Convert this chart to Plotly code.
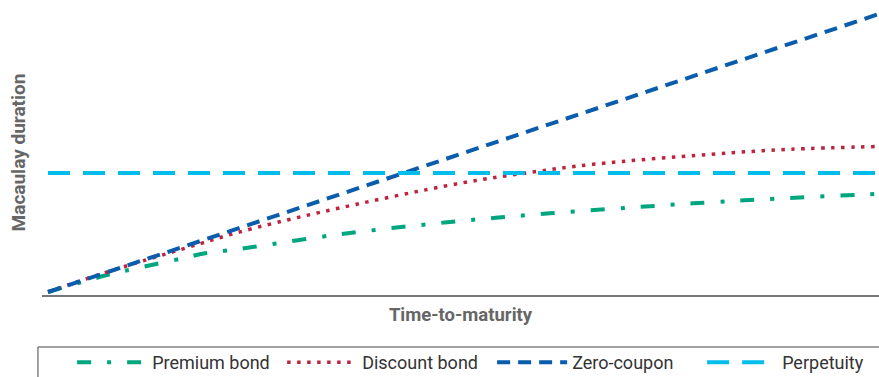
import plotly.graph_objects as go

# Time-to-maturity (years) and Macaulay duration readings
prem_t = [0, 2.13, 3.07, 4.87, 5.67, 6.82, 10.54, 14.40, 18.12, 21.99, 23.90, 25.78, 29.57, 30]
prem_d = [0, 1.83, 2.48, 3.64, 4.18, 4.61, 6.23, 7.52, 8.49, 9.31, 9.68, 10.00, 10.54, 10.6]

disc_t = [0, 0.79, 2.06, 3.42, 5.46, 6.82, 9.93, 14.87, 17.58, 19.68, 23.90, 26.79, 30]
disc_d = [0, 0.83, 2.08, 3.35, 5.18, 6.40, 8.67, 11.73, 12.98, 13.78, 14.86, 15.40, 15.70]

zero_t = [0, 30]
zero_d = [0, 30]

perp_t = [0, 30]
perp_d = [12.84, 12.84]

series_names = ["Premium bond", "Discount bond", "Zero-coupon", "Perpetuity"]

fig = go.Figure()
fig.add_trace(go.Scatter(x=prem_t, y=prem_d, name=series_names[0], mode="lines",
                         line=dict(color="#00A67E", width=4, dash="14px,16px,4px,16px", shape="spline")))
fig.add_trace(go.Scatter(x=disc_t, y=disc_d, name=series_names[1], mode="lines",
                         line=dict(color="#BC253D", width=3.5, dash="3.5px,6.5px", shape="spline")))
fig.add_trace(go.Scatter(x=zero_t, y=zero_d, name=series_names[2], mode="lines",
                         line=dict(color="#0A5CAD", width=4, dash="13px,8px")))
fig.add_trace(go.Scatter(x=perp_t, y=perp_d, name=series_names[3], mode="lines",
                         line=dict(color="#00BDEB", width=4, dash="22px,13px")))

fig.update_layout(
    width=879, height=377,
    margin=dict(l=42, r=0, t=10, b=82, autoexpand=False),
    paper_bgcolor="white", plot_bgcolor="white",
    showlegend=True,
    legend=dict(orientation="h", x=0.036, xanchor="left", y=-0.172, yanchor="top",
                borderwidth=0, bgcolor="rgba(0,0,0,0)",
                font=dict(family="Roboto", size=18, color="#333"),
                itemwidth=70, entrywidth=125, entrywidthmode="pixels", tracegroupgap=0),
    xaxis=dict(range=[-0.217, 30], showgrid=False, zeroline=False, showticklabels=False,
               ticks="", showline=True, linecolor="#777", linewidth=2, automargin=False,
               title=dict(text="<b>Time-to-maturity</b>", standoff=12,
                          font=dict(family="Roboto", size=18.5, color="#666"))),
    yaxis=dict(range=[-0.324, 30.43], showgrid=False, zeroline=False, showticklabels=False,
               ticks="", showline=False, automargin=False,
               title=dict(text="<b>Macaulay duration</b>", standoff=10,
                          font=dict(family="Roboto", size=19, color="#666"))),
    shapes=[dict(type="rect", xref="paper", yref="paper", x0=-0.0048, x1=1.05, y0=-0.1825, y1=-0.40,
                 line=dict(color="#444", width=1), fillcolor="rgba(0,0,0,0)", layer="above")],
)

fig.write_html("out.html", config={"displayModeBar": False},
               post_script="document.body.style.margin='0px';document.body.style.overflow='hidden';")
